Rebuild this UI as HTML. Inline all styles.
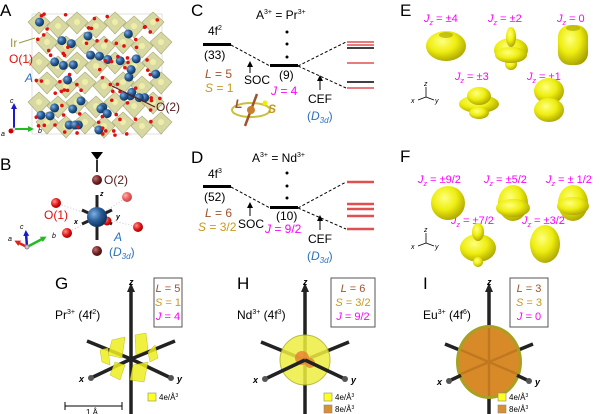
<!DOCTYPE html>
<html><head><meta charset="utf-8"><style>
html,body{margin:0;padding:0;background:#fff;}
svg{display:block;font-family:"Liberation Sans",sans-serif;}
</style></head><body>
<svg width="600" height="414" viewBox="0 0 600 414" xmlns="http://www.w3.org/2000/svg">
<defs>
<radialGradient id="yl" cx="40%" cy="35%" r="70%"><stop offset="0" stop-color="#ffff80"/><stop offset="0.5" stop-color="#eeee10"/><stop offset="1" stop-color="#a8a000"/></radialGradient>
<radialGradient id="bl" cx="35%" cy="35%" r="70%"><stop offset="0" stop-color="#7fb0e0"/><stop offset="0.5" stop-color="#2a5f9a"/><stop offset="1" stop-color="#0f2d55"/></radialGradient>
<radialGradient id="rd" cx="35%" cy="35%" r="70%"><stop offset="0" stop-color="#ff9090"/><stop offset="0.6" stop-color="#e01010"/><stop offset="1" stop-color="#900"/></radialGradient>
<radialGradient id="dr" cx="35%" cy="35%" r="70%"><stop offset="0" stop-color="#c07070"/><stop offset="0.6" stop-color="#702020"/><stop offset="1" stop-color="#401010"/></radialGradient>
<marker id="ar" markerUnits="userSpaceOnUse" markerWidth="6" markerHeight="6" refX="5" refY="3" orient="auto"><path d="M0,0 L6,3 L0,6 z" fill="#000"/></marker>
<marker id="arB" markerUnits="userSpaceOnUse" markerWidth="6" markerHeight="6" refX="3" refY="3" orient="auto"><path d="M0,0 L6,3 L0,6 z" fill="#1a1acc"/></marker>
<marker id="arG" markerUnits="userSpaceOnUse" markerWidth="6" markerHeight="6" refX="3" refY="3" orient="auto"><path d="M0,0 L6,3 L0,6 z" fill="#22bb22"/></marker>
<marker id="arR" markerUnits="userSpaceOnUse" markerWidth="6" markerHeight="6" refX="3" refY="3" orient="auto"><path d="M0,0 L6,3 L0,6 z" fill="#dd2222"/></marker>
</defs>

<!-- Panel labels -->
<g font-size="17" fill="#000">
<text x="0" y="16">A</text><text x="0" y="170">B</text>
<text x="191" y="16">C</text><text x="191" y="163">D</text>
<text x="400" y="16">E</text><text x="400" y="162">F</text>
<text x="55" y="289">G</text><text x="237" y="289">H</text><text x="423" y="289">I</text>
</g>

<!-- A crystal -->
<g id="crystal"></g>
<g font-size="12">
<text x="10" y="47" fill="#9a9a40">Ir</text>
<line x1="19" y1="43" x2="35" y2="38" stroke="#9a9a40"/>
<text x="9" y="63" fill="#e01010">O(1)</text>
<text x="25" y="82" fill="#2a6fc0" font-style="italic">A</text>
<text x="156" y="111" fill="#5a1a1a">O(2)</text>
<line x1="112" y1="86" x2="155" y2="107" stroke="#5a1a1a"/>
</g>
<g font-size="7" font-style="italic">
<line x1="14" y1="129" x2="14" y2="106" stroke="#1a1acc" stroke-width="2" marker-end="url(#arB)"/>
<line x1="14" y1="129" x2="31" y2="129" stroke="#22bb22" stroke-width="2" marker-end="url(#arG)"/>
<circle cx="11" cy="131" r="2.5" fill="#c00"/>
<circle cx="14" cy="129" r="1.5" fill="#ddd" stroke="#888" stroke-width="0.5"/>
<text x="10" y="103">c</text><text x="38" y="133">b</text><text x="1" y="136">a</text>
</g>

<!-- B -->
<path d="M91,152 L103,152 L97,160 z" fill="#000"/>
<line x1="97" y1="160" x2="97" y2="172" stroke="#333" stroke-width="2"/>
<g stroke="#bbb" stroke-dasharray="1,2" stroke-width="0.8">
<line x1="56" y1="203" x2="97" y2="217"/><line x1="67" y1="233" x2="97" y2="217"/>
<line x1="127" y1="197" x2="97" y2="217"/><line x1="138" y1="227" x2="97" y2="217"/>
</g>
<line x1="97" y1="195" x2="97" y2="240" stroke="#222" stroke-width="3"/>
<line x1="82" y1="210" x2="112" y2="224" stroke="#222" stroke-width="3"/>
<line x1="112" y1="210" x2="82" y2="224" stroke="#222" stroke-width="3"/>
<circle cx="97" cy="180" r="5" fill="url(#dr)"/>
<circle cx="97" cy="251" r="5" fill="url(#dr)"/>
<circle cx="56" cy="203" r="5" fill="url(#rd)"/>
<circle cx="67" cy="233" r="5" fill="url(#rd)"/>
<circle cx="127" cy="197" r="5" fill="url(#rd)" opacity="0.7"/>
<circle cx="138" cy="227" r="5" fill="url(#rd)"/>
<circle cx="107" cy="221" r="4.5" fill="url(#rd)"/>
<circle cx="97" cy="217" r="10" fill="url(#bl)"/>
<g font-size="12">
<text x="104" y="184" fill="#5a1a1a">O(2)</text>
<text x="44" y="219" fill="#e01010">O(1)</text>
<text x="114" y="241" fill="#2a6fc0" font-style="italic">A</text>
<text x="109" y="256" fill="#2a6fc0">(<tspan font-style="italic">D</tspan><tspan font-size="8" font-style="italic" dy="3">3d</tspan><tspan dy="-3">)</tspan></text>
</g>
<g font-size="7" font-style="italic" font-weight="bold">
<text x="100" y="196">z</text><text x="74" y="224">x</text><text x="116" y="219">y</text>
</g>
<g font-size="7" font-style="italic">
<line x1="27" y1="247" x2="26" y2="233" stroke="#1a1acc" stroke-width="2.5" marker-end="url(#arB)"/>
<line x1="27" y1="247" x2="44" y2="238" stroke="#22bb22" stroke-width="2.5" marker-end="url(#arG)"/>
<line x1="27" y1="247" x2="17" y2="242" stroke="#dd2222" stroke-width="2.5" marker-end="url(#arR)"/>
<circle cx="27" cy="247" r="2" fill="#ccc" stroke="#888"/>
<text x="20" y="229">c</text><text x="52" y="238">b</text><text x="8" y="241">a</text>
</g>

<!-- C -->
<g font-size="12" fill="#000">
<text x="256" y="19">A<tspan font-size="7" dy="-5">3+</tspan><tspan dy="5"> = Pr</tspan><tspan font-size="7" dy="-5">3+</tspan></text>
<text x="208" y="35">4f<tspan font-size="7" dy="-5">2</tspan></text>
<text x="204" y="59">(33)</text>
<text x="279" y="79">(9)</text>
<text x="244" y="84">SOC</text>
<text x="308" y="103">CEF</text>
<text x="307" y="120" fill="#2a6fc0">(<tspan font-style="italic">D</tspan><tspan font-size="8" font-style="italic" dy="3">3d</tspan><tspan dy="-3">)</tspan></text>
<text x="205" y="78" fill="#a0522d"><tspan font-style="italic">L</tspan> = 5</text>
<text x="205" y="92" fill="#c8981e"><tspan font-style="italic">S</tspan> = 1</text>
<text x="271" y="95" fill="#ff00ff"><tspan font-style="italic">J</tspan> = 4</text>
</g>
<rect x="203" y="43" width="28" height="3" fill="#000"/>
<rect x="270" y="64" width="28" height="3" fill="#000"/>
<g fill="#000"><circle cx="287" cy="32" r="1.5"/><circle cx="287" cy="44" r="1.5"/><circle cx="287" cy="57" r="1.5"/></g>
<g stroke="#000" stroke-dasharray="3,2" fill="none">
<path d="M231,45 L270,66"/><path d="M298,66 L346,42"/><path d="M298,66 L346,88"/>
</g>
<line x1="250" y1="73" x2="250" y2="62" stroke="#000" marker-end="url(#ar)"/>
<line x1="320" y1="90" x2="320" y2="76" stroke="#000" marker-end="url(#ar)"/>
<g stroke-width="1.5">
<line x1="347" y1="42" x2="374" y2="42" stroke="#e05050"/>
<line x1="347" y1="45" x2="374" y2="45" stroke="#e05050"/>
<line x1="347" y1="48" x2="374" y2="48" stroke="#000"/>
<line x1="347" y1="63" x2="374" y2="63" stroke="#e05050"/>
<line x1="347" y1="82" x2="374" y2="82" stroke="#000"/>
<line x1="347" y1="88" x2="374" y2="88" stroke="#e05050"/>
</g>
<!-- SOC icon -->
<ellipse cx="251" cy="110" rx="19" ry="7" fill="none" stroke="#c8c040" stroke-width="2"/>
<line x1="245" y1="126" x2="257" y2="94" stroke="#a0522d" stroke-width="2.5"/>
<circle cx="251" cy="110" r="4" fill="#c88030"/>
<circle cx="265" cy="103" r="2.5" fill="#ee0"/>
<text x="235" y="108" font-size="12" font-style="italic" font-weight="bold" fill="#a0522d">L</text>
<text x="268" y="113" font-size="12" font-style="italic" font-weight="bold" fill="#c8981e">S</text>

<!-- D -->
<g font-size="12" fill="#000">
<text x="252" y="162">A<tspan font-size="7" dy="-5">3+</tspan><tspan dy="5"> = Nd</tspan><tspan font-size="7" dy="-5">3+</tspan></text>
<text x="208" y="178">4f<tspan font-size="7" dy="-5">3</tspan></text>
<text x="204" y="201">(52)</text>
<text x="276" y="220">(10)</text>
<text x="238" y="228">SOC</text>
<text x="308" y="243">CEF</text>
<text x="307" y="260" fill="#2a6fc0">(<tspan font-style="italic">D</tspan><tspan font-size="8" font-style="italic" dy="3">3d</tspan><tspan dy="-3">)</tspan></text>
<text x="205" y="217" fill="#a0522d"><tspan font-style="italic">L</tspan> = 6</text>
<text x="198" y="231" fill="#c8981e"><tspan font-style="italic">S</tspan> = 3/2</text>
<text x="265" y="233" fill="#ff00ff"><tspan font-style="italic">J</tspan> = 9/2</text>
</g>
<rect x="203" y="185" width="28" height="3" fill="#000"/>
<rect x="270" y="206" width="28" height="3" fill="#000"/>
<g fill="#000"><circle cx="287" cy="173" r="1.5"/><circle cx="287" cy="186" r="1.5"/><circle cx="287" cy="198" r="1.5"/></g>
<g stroke="#000" stroke-dasharray="3,2" fill="none">
<path d="M231,187 L270,208"/><path d="M298,208 L346,182"/><path d="M298,208 L346,229"/>
</g>
<line x1="250" y1="216" x2="250" y2="203" stroke="#000" marker-end="url(#ar)"/>
<line x1="320" y1="230" x2="320" y2="216" stroke="#000" marker-end="url(#ar)"/>
<g stroke-width="2.5" stroke="#e05050">
<line x1="347" y1="182" x2="374" y2="182"/>
<line x1="347" y1="204" x2="374" y2="204"/>
<line x1="347" y1="209" x2="374" y2="209"/>
<line x1="347" y1="216" x2="374" y2="216"/>
<line x1="347" y1="229" x2="374" y2="229"/>
</g>

<!-- E -->
<g font-size="11" fill="#ff00ff">
<text x="424" y="22"><tspan font-style="italic">J</tspan><tspan font-size="7" font-style="italic" dy="3">z</tspan><tspan dy="-3"> = ±4</tspan></text>
<text x="488" y="22"><tspan font-style="italic">J</tspan><tspan font-size="7" font-style="italic" dy="3">z</tspan><tspan dy="-3"> = ±2</tspan></text>
<text x="557" y="22"><tspan font-style="italic">J</tspan><tspan font-size="7" font-style="italic" dy="3">z</tspan><tspan dy="-3"> = 0</tspan></text>
<text x="455" y="80"><tspan font-style="italic">J</tspan><tspan font-size="7" font-style="italic" dy="3">z</tspan><tspan dy="-3"> = ±3</tspan></text>
<text x="527" y="80"><tspan font-style="italic">J</tspan><tspan font-size="7" font-style="italic" dy="3">z</tspan><tspan dy="-3"> = ±1</tspan></text>
</g>
<g fill="url(#yl)">
<ellipse cx="446" cy="46" rx="20" ry="15"/>
<ellipse cx="511" cy="50" rx="17" ry="12"/><ellipse cx="511" cy="37" rx="5" ry="10"/><ellipse cx="511" cy="64" rx="6" ry="6"/><ellipse cx="511" cy="55" rx="16" ry="8"/>
<rect x="558" y="25" width="30" height="40" rx="12"/>
<ellipse cx="479" cy="104" rx="20" ry="9"/><ellipse cx="479" cy="96" rx="12" ry="9"/><ellipse cx="479" cy="113" rx="10" ry="6"/>
<ellipse cx="549" cy="91" rx="15" ry="13"/><ellipse cx="549" cy="110" rx="15" ry="12"/>
</g>
<ellipse cx="446" cy="35" rx="7" ry="3" fill="#a8a000" opacity="0.6"/>
<ellipse cx="573" cy="28" rx="7" ry="3" fill="#a8a000" opacity="0.6"/>
<g stroke="#000" stroke-width="0.8">
<line x1="426" y1="97" x2="426" y2="87"/><line x1="426" y1="97" x2="418" y2="100"/><line x1="426" y1="97" x2="434" y2="100"/>
</g>
<g font-size="7" font-style="italic"><text x="424" y="86">z</text><text x="411" y="103">x</text><text x="435" y="103">y</text></g>

<!-- F -->
<g font-size="11" fill="#ff00ff">
<text x="418" y="183"><tspan font-style="italic">J</tspan><tspan font-size="7" font-style="italic" dy="3">z</tspan><tspan dy="-3"> = ±9/2</tspan></text>
<text x="484" y="183"><tspan font-style="italic">J</tspan><tspan font-size="7" font-style="italic" dy="3">z</tspan><tspan dy="-3"> = ±5/2</tspan></text>
<text x="546" y="183"><tspan font-style="italic">J</tspan><tspan font-size="7" font-style="italic" dy="3">z</tspan><tspan dy="-3"> = ± 1/2</tspan></text>
<text x="451" y="224"><tspan font-style="italic">J</tspan><tspan font-size="7" font-style="italic" dy="3">z</tspan><tspan dy="-3"> = ±7/2</tspan></text>
<text x="522" y="224"><tspan font-style="italic">J</tspan><tspan font-size="7" font-style="italic" dy="3">z</tspan><tspan dy="-3"> = ±3/2</tspan></text>
</g>
<g fill="url(#yl)">
<ellipse cx="448" cy="203" rx="17" ry="17"/>
<ellipse cx="513" cy="203" rx="15" ry="18"/><ellipse cx="513" cy="208" rx="17" ry="9"/>
<ellipse cx="573" cy="203" rx="15" ry="18"/><ellipse cx="573" cy="206" rx="16" ry="9"/>
<ellipse cx="478" cy="248" rx="18" ry="14"/><ellipse cx="478" cy="232" rx="6" ry="9"/><ellipse cx="478" cy="262" rx="5" ry="5"/>
<ellipse cx="545" cy="244" rx="15" ry="19"/>
</g>
<g stroke="#000" stroke-width="0.8">
<line x1="426" y1="243" x2="426" y2="233"/><line x1="426" y1="243" x2="418" y2="246"/><line x1="426" y1="243" x2="434" y2="246"/>
</g>
<g font-size="7" font-style="italic"><text x="424" y="232">z</text><text x="411" y="249">x</text><text x="435" y="249">y</text></g>

<!-- G/H/I axes -->
<g id="axes"></g>

<!-- G -->
<text x="55" y="319" font-size="12">Pr<tspan font-size="7" dy="-5">3+</tspan><tspan dy="5"> (4f</tspan><tspan font-size="7" dy="-5">2</tspan><tspan dy="5">)</tspan></text>
<g fill="#eeee20" opacity="0.85" stroke="#b8b000" stroke-width="0.5">
<path d="M112,340 L125,337 L122,358 L108,355z"/><path d="M135,335 L146,333 L148,350 L136,355z"/>
<path d="M115,362 L125,365 L120,380 L110,375z"/><path d="M133,365 L148,362 L144,382 L130,380z"/>
<path d="M100,350 L108,348 L110,365 L102,362z"/><path d="M148,352 L155,345 L158,358 L150,362z"/>
</g>
<rect x="154" y="278" width="28" height="49" fill="#fff" stroke="#555"/>
<g font-size="11" text-anchor="middle">
<text x="168" y="292" fill="#a0522d"><tspan font-style="italic">L</tspan> = 5</text>
<text x="168" y="306" fill="#c8981e"><tspan font-style="italic">S</tspan> = 1</text>
<text x="168" y="320" fill="#ff00ff"><tspan font-style="italic">J</tspan> = 4</text>
</g>
<rect x="148" y="393" width="8" height="8" fill="#ffff20" stroke="#888" stroke-width="0.6"/>
<text x="159" y="400" font-size="8">4e/Å<tspan font-size="5" dy="-3">3</tspan></text>
<line x1="65" y1="406" x2="122" y2="406" stroke="#000"/><line x1="65" y1="402" x2="65" y2="410" stroke="#000"/><line x1="122" y1="402" x2="122" y2="410" stroke="#000"/>
<text x="86" y="415" font-size="8">1 Å</text>

<!-- H -->
<text x="237" y="319" font-size="12">Nd<tspan font-size="7" dy="-5">3+</tspan><tspan dy="5"> (4f</tspan><tspan font-size="7" dy="-5">3</tspan><tspan dy="5">)</tspan></text>
<rect x="331" y="278" width="44" height="49" fill="#fff" stroke="#555"/>
<g font-size="11" text-anchor="middle">
<text x="353" y="292" fill="#a0522d"><tspan font-style="italic">L</tspan> = 6</text>
<text x="353" y="306" fill="#c8981e"><tspan font-style="italic">S</tspan> = 3/2</text>
<text x="353" y="320" fill="#ff00ff"><tspan font-style="italic">J</tspan> = 9/2</text>
</g>
<rect x="324" y="393" width="8" height="8" fill="#ffff20" stroke="#888" stroke-width="0.6"/>
<text x="335" y="400" font-size="8">4e/Å<tspan font-size="5" dy="-3">3</tspan></text>
<rect x="324" y="405" width="8" height="8" fill="#d89030" stroke="#888" stroke-width="0.6"/>
<text x="335" y="412" font-size="8">8e/Å<tspan font-size="5" dy="-3">3</tspan></text>

<!-- I -->
<text x="423" y="319" font-size="12">Eu<tspan font-size="7" dy="-5">3+</tspan><tspan dy="5"> (4f</tspan><tspan font-size="7" dy="-5">6</tspan><tspan dy="5">)</tspan></text>
<rect x="510" y="278" width="38" height="49" fill="#fff" stroke="#555"/>
<g font-size="11" text-anchor="middle">
<text x="529" y="292" fill="#a0522d"><tspan font-style="italic">L</tspan> = 3</text>
<text x="529" y="306" fill="#c8981e"><tspan font-style="italic">S</tspan> = 3</text>
<text x="529" y="320" fill="#ff00ff"><tspan font-style="italic">J</tspan> = 0</text>
</g>
<rect x="498" y="393" width="8" height="8" fill="#ffff20" stroke="#888" stroke-width="0.6"/>
<text x="509" y="400" font-size="8">4e/Å<tspan font-size="5" dy="-3">3</tspan></text>
<rect x="498" y="405" width="8" height="8" fill="#d89030" stroke="#888" stroke-width="0.6"/>
<text x="509" y="412" font-size="8">8e/Å<tspan font-size="5" dy="-3">3</tspan></text>
</svg>
<script>
(function(){
var NS="http://www.w3.org/2000/svg";
function el(p,t,a){var e=document.createElementNS(NS,t);for(var k in a)e.setAttribute(k,a[k]);p.appendChild(e);return e;}
var c=document.getElementById("crystal");
el(c,"rect",{x:32,y:14,width:130,height:120,fill:"none",stroke:"#ccc","stroke-width":0.6});
var s=1;function r(){s=(s*9301+49297)%233280;return s/233280;}
for(var i=0;i<7;i++)for(var j=0;j<6;j++){var x=28+i*19+(j%2)*8,y=12+j*20+(i%2)*4;
 el(c,"path",{d:"M"+(x+11)+","+y+" L"+(x+22)+","+(y+10)+" L"+(x+11)+","+(y+22)+" L"+x+","+(y+10)+"z",fill:"#d4d49a",stroke:"#a0a068","stroke-width":0.6,opacity:0.9});
 el(c,"circle",{cx:x+11,cy:y+10,r:3,fill:"#eeeea8"});}
for(var k=0;k<34;k++){el(c,"circle",{cx:38+r()*118,cy:20+r()*110,r:4.5,fill:"url(#bl)"});}
for(var k=0;k<80;k++){el(c,"circle",{cx:32+r()*128,cy:14+r()*122,r:1.8,fill:"#e01010"});}
var a=document.getElementById("axes");
[[131,359],[305,360],[489,362]].forEach(function(p,idx){
 var cx=p[0],cy=p[1];
 var back=[[cx,cy,cx,290],[cx,cy,cx,414],[cx,cy,cx-44,cy-18],[cx,cy,cx+44,cy-18]];
 var front=[[cx,cy,cx-40,cy+19],[cx,cy,cx+40,cy+19]];
 back.forEach(function(l){el(a,"line",{x1:l[0],y1:l[1],x2:l[2],y2:l[3],stroke:"#222","stroke-width":3.5});});
 if(idx==1){el(a,"circle",{cx:cx,cy:cy,r:25,fill:"#eeee40",opacity:0.85,stroke:"#b0b020"});
  el(a,"circle",{cx:cx-3,cy:cy-2,r:7,fill:"#e88030",opacity:0.8});el(a,"circle",{cx:cx+5,cy:cy+3,r:5,fill:"#e88030",opacity:0.8});}
 if(idx==2){el(a,"ellipse",{cx:cx,cy:cy,rx:33,ry:37,fill:"#a8a020"});el(a,"ellipse",{cx:cx,cy:cy,rx:30,ry:34,fill:"#d88a28"});
  [[cx,cy-34,cx,cy+34],[cx-28,cy-12,cx+28,cy+12],[cx+28,cy-12,cx-28,cy+12]].forEach(function(l){el(a,"line",{x1:l[0],y1:l[1],x2:l[2],y2:l[3],stroke:"#c07820","stroke-width":2.5});});}
 front.forEach(function(l){
  var x1=l[0],y1=l[1];
  if(idx==2){x1=cx+(l[2]-cx)*0.7;y1=cy+(l[3]-cy)*0.7;}
  el(a,"line",{x1:x1,y1:y1,x2:l[2],y2:l[3],stroke:"#222","stroke-width":3.5});});
 el(a,"path",{d:"M"+(cx-4)+",292 L"+cx+",283 L"+(cx+4)+",292z",fill:"#222"});
 el(a,"circle",{cx:cx-40,cy:cy+19,r:3,fill:"#555"});el(a,"circle",{cx:cx+40,cy:cy+19,r:3,fill:"#555"});
 var t=el(a,"text",{x:cx-2,y:285,"font-size":9,"font-style":"italic","font-weight":"bold"});t.textContent="z";
 t=el(a,"text",{x:cx-52,y:cy+23,"font-size":9,"font-style":"italic","font-weight":"bold"});t.textContent="x";
 t=el(a,"text",{x:cx+46,y:cy+23,"font-size":9,"font-style":"italic","font-weight":"bold"});t.textContent="y";
});
})();
</script>
</body></html>
